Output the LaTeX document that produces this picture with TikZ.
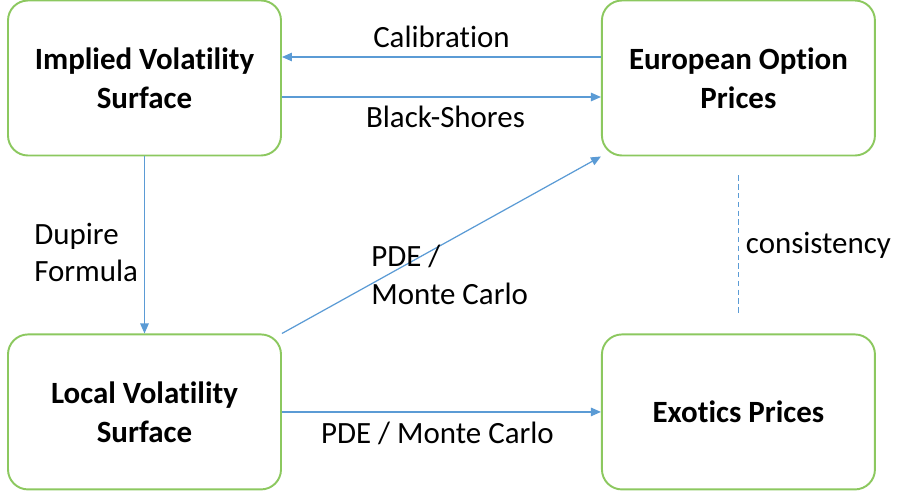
\documentclass[tikz,border=0pt]{standalone}
\usepackage{fontspec}
\setmainfont{Carlito}[Ligatures=NoCommon]
\usepackage{tikz}
\usetikzlibrary{positioning,arrows.meta}
\definecolor{boxgreen}{RGB}{140,200,95}
\definecolor{arrowblue}{RGB}{91,155,213}

\begin{document}
\begin{tikzpicture}[
  font=\fontsize{17.6}{21.5}\selectfont,
  block/.style={draw=boxgreen, line width=1.1pt, rounded corners=0.4cm, minimum width=5.46cm, minimum height=3.1cm, align=center, font=\fontsize{17.6}{22.2}\selectfont\bfseries},
  arrow/.style={-{Triangle[length=2mm, width=1.7mm]}, draw=arrowblue, line width=0.7pt},
  link/.style={draw=arrowblue, line width=0.7pt, dash pattern=on 3pt off 2pt}
]
\useasboundingbox (0,0) rectangle (17.96,-9.84);
\node[block] (iv) at (2.89,-1.56) {Implied Volatility\\Surface};
\node[block, right=6.38cm of iv] (eu) {European Option\\Prices};
\node[block, below=3.54cm of iv] (lv) {Local Volatility\\Surface};
\node[block, right=6.38cm of lv] (ex) {Exotics Prices};
\draw[arrow] ([yshift=0.42cm]eu.west) -- ([yshift=0.42cm]iv.east) node[midway, above, yshift=0.06cm] (calib) {Calibration};
\draw[arrow] ([yshift=-0.38cm]iv.east) -- ([yshift=-0.38cm]eu.west) node[midway, below, xshift=0.08cm, yshift=-0.06cm] (bs) {Black-Shores};
\draw[arrow] (iv) -- (lv) node[midway, left, align=left, yshift=-0.15cm] (dup) {Dupire\\Formula};
\draw[arrow] (lv.north east) -- (eu.south west) node[pos=0.26, anchor=west, yshift=0.25cm, align=left] (pde) {PDE /\\Monte Carlo};
\draw[arrow] (lv) -- (ex) node[midway, below, xshift=-0.08cm, yshift=-0.08cm] (pdemc) {PDE / Monte Carlo};
\draw[link] ([yshift=-0.38cm]eu.south) -- ([yshift=0.36cm]ex.north) node[midway, right, xshift=0.02cm] (cons) {consistency};
\end{tikzpicture}
\end{document}
